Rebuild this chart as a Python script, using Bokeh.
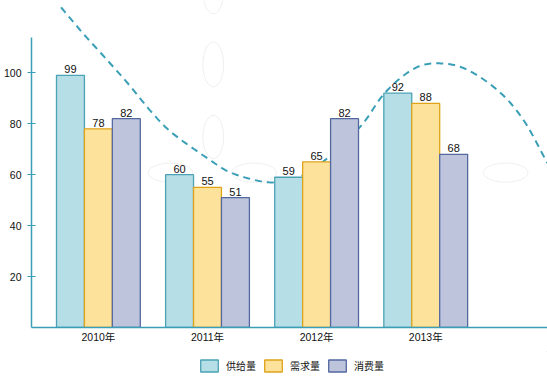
import numpy as np
from bokeh.plotting import figure
from bokeh.layouts import column
from bokeh.models import Range1d, FixedTicker, Legend, LegendItem, Label, ColumnDataSource
from bokeh.core.properties import value
from bokeh.embed import file_html
from bokeh.resources import INLINE

# ---------------- data ----------------
years = ["2010年", "2011年", "2012年", "2013年"]
series_names = ["供给量", "需求量", "消费量"]
supply = [99, 60, 59, 92]
demand = [78, 55, 65, 88]
consumption = [82, 51, 82, 68]
y_ticks = [20, 40, 60, 80, 100]
unit_label = "单位"

# decorative dashed curve (x in category index units, y in value units)
curve_x = [-0.342, -0.141, 0.041, 0.269, 0.497, 0.679, 0.998, 1.226, 1.563, 1.819,
           2.111, 2.411, 2.621, 2.867, 3.077, 3.350, 3.660, 3.897, 4.116]
curve_y = [125.7, 115.5, 106.9, 95.9, 84.1, 76.3, 66.5, 60.6, 57.0, 58.6,
           66.9, 79.4, 91.9, 101.0, 103.7, 101.8, 93.1, 81.4, 64.5]

# faint decorative background ellipses
deco_x = [1.053, 1.053, 1.053, 0.661, 1.427, 3.733]
deco_y = [132.0, 103.3, 74.8, 60.8, 60.8, 60.8]
deco_w = [0.19, 0.19, 0.19, 0.41, 0.41, 0.41]
deco_h = [17.6, 17.6, 17.0, 7.5, 7.5, 7.5]

# ---------------- styles ----------------
fills = ["#b6dee6", "#fde29c", "#bdc4dc"]
borders = ["#4aa2b4", "#dfa31a", "#5468a0"]
AXIS = "#3a9fb6"
FONT = "Liberation Sans, Noto Sans CJK SC"
X0, X1 = -0.613, 4.116
Y0, Y1 = 0, 128.4
BAR_W = 0.256
W, H_MAIN, H_LEG = 547, 351, 27


def smooth(xs, ys, n=16):
    """Catmull-Rom smoothing of the decorative curve's read points."""
    P = np.column_stack([xs, ys]).astype(float)
    P = np.vstack([P[0] * 2 - P[1], P, P[-1] * 2 - P[-2]])
    out = []
    t = np.linspace(0, 1, n, endpoint=False)[:, None]
    for i in range(1, len(P) - 2):
        p0, p1, p2, p3 = P[i - 1], P[i], P[i + 1], P[i + 2]
        seg = 0.5 * ((2 * p1) + (-p0 + p2) * t + (2 * p0 - 5 * p1 + 4 * p2 - p3) * t ** 2
                     + (-p0 + 3 * p1 - 3 * p2 + p3) * t ** 3)
        out.append(seg)
    out.append(P[-2][None, :])
    out = np.vstack(out)
    return out[:, 0], out[:, 1]


p = figure(width=W, height=H_MAIN, output_backend="svg", toolbar_location=None,
           title=None, x_range=Range1d(X0, X1), y_range=Range1d(Y0, Y1),
           min_border_left=28, min_border_right=0, min_border_top=0,
           min_border_bottom=24)
p.outline_line_color = None
p.grid.visible = False
p.background_fill_color = "white"
p.border_fill_color = "white"

p.ellipse(x=deco_x, y=deco_y, width=deco_w, height=deco_h,
          fill_alpha=0, line_color="#efefef", line_width=1)

cx, cy = smooth(curve_x, curve_y)
p.line(cx, cy, line_color=AXIS, line_width=2, line_dash="7 5")

series = [supply, demand, consumption]
offsets = [-BAR_W, 0.0, BAR_W]
for vals, off, fc, lc in zip(series, offsets, fills, borders):
    xs = [i + off for i in range(len(years))]
    src = ColumnDataSource(dict(x=xs, top=vals, lbl=[str(v) for v in vals]))
    p.vbar(x="x", top="top", bottom=0, width=BAR_W, source=src,
           fill_color=fc, line_color=lc, line_width=1.3)
    p.text(x="x", y="top", text="lbl", source=src, text_align="center",
           text_baseline="bottom", y_offset=-2, text_font=value(FONT),
           text_font_size="11px", text_color="#111111")

# axes
xa = p.xaxis[0]
xa.ticker = FixedTicker(ticks=list(range(len(years))))
xa.major_label_overrides = {i: y for i, y in enumerate(years)}
xa.axis_line_color = AXIS
xa.axis_line_width = 1.5
xa.major_tick_line_color = None
xa.minor_tick_line_color = None
xa.major_tick_out = 0
xa.major_tick_in = 0
xa.major_label_standoff = 3
xa.major_label_text_font = FONT
xa.major_label_text_font_size = "10.5px"
xa.major_label_text_color = "#111111"

ya = p.yaxis[0]
ya.ticker = FixedTicker(ticks=y_ticks)
ya.bounds = (0, 113.8)
ya.axis_line_color = AXIS
ya.axis_line_width = 1.5
ya.major_tick_line_color = AXIS
ya.major_tick_in = 4
ya.major_tick_out = 4
ya.minor_tick_line_color = None
ya.major_label_standoff = 6
ya.major_label_text_font = FONT
ya.major_label_text_font_size = "10.5px"
ya.major_label_text_color = "#111111"

p.add_layout(Label(x=X0, y=110, text=unit_label, text_align="right",
                   text_baseline="middle", x_offset=-6, text_font=FONT,
                   text_font_size="10px", text_color="#111111"))

# ---------------- legend strip ----------------
q = figure(width=W, height=H_LEG, output_backend="svg", toolbar_location=None,
           title=None, x_range=Range1d(0, 1), y_range=Range1d(0, 1),
           x_axis_location=None, y_axis_location=None,
           min_border=0, min_border_left=0, min_border_right=0,
           min_border_top=0, min_border_bottom=0)
q.outline_line_color = None
q.grid.visible = False
q.border_fill_color = "white"
q.background_fill_color = "white"
leg_renderers = []
for fc, lc in zip(fills, borders):
    # swatch-only renderers: their single bar lies outside the strip's visible range
    leg_renderers.append(q.vbar(x=[5], top=[5], bottom=[4], width=0.1, fill_color=fc,
                                line_color=lc, line_width=1.3))

legend = Legend(items=[LegendItem(label=n, renderers=[r]) for n, r in zip(series_names, leg_renderers)],
                orientation="horizontal", location=(167, 5),
                glyph_width=22, glyph_height=15, label_standoff=6, spacing=6,
                padding=0, margin=0, border_line_alpha=0, background_fill_alpha=0,
                label_text_font=FONT, label_text_font_size="10px",
                label_height=15, label_text_color="#111111")
q.add_layout(legend, "center")

layout = column(p, q, spacing=0)
open("out.html", "w").write(file_html(layout, INLINE))
